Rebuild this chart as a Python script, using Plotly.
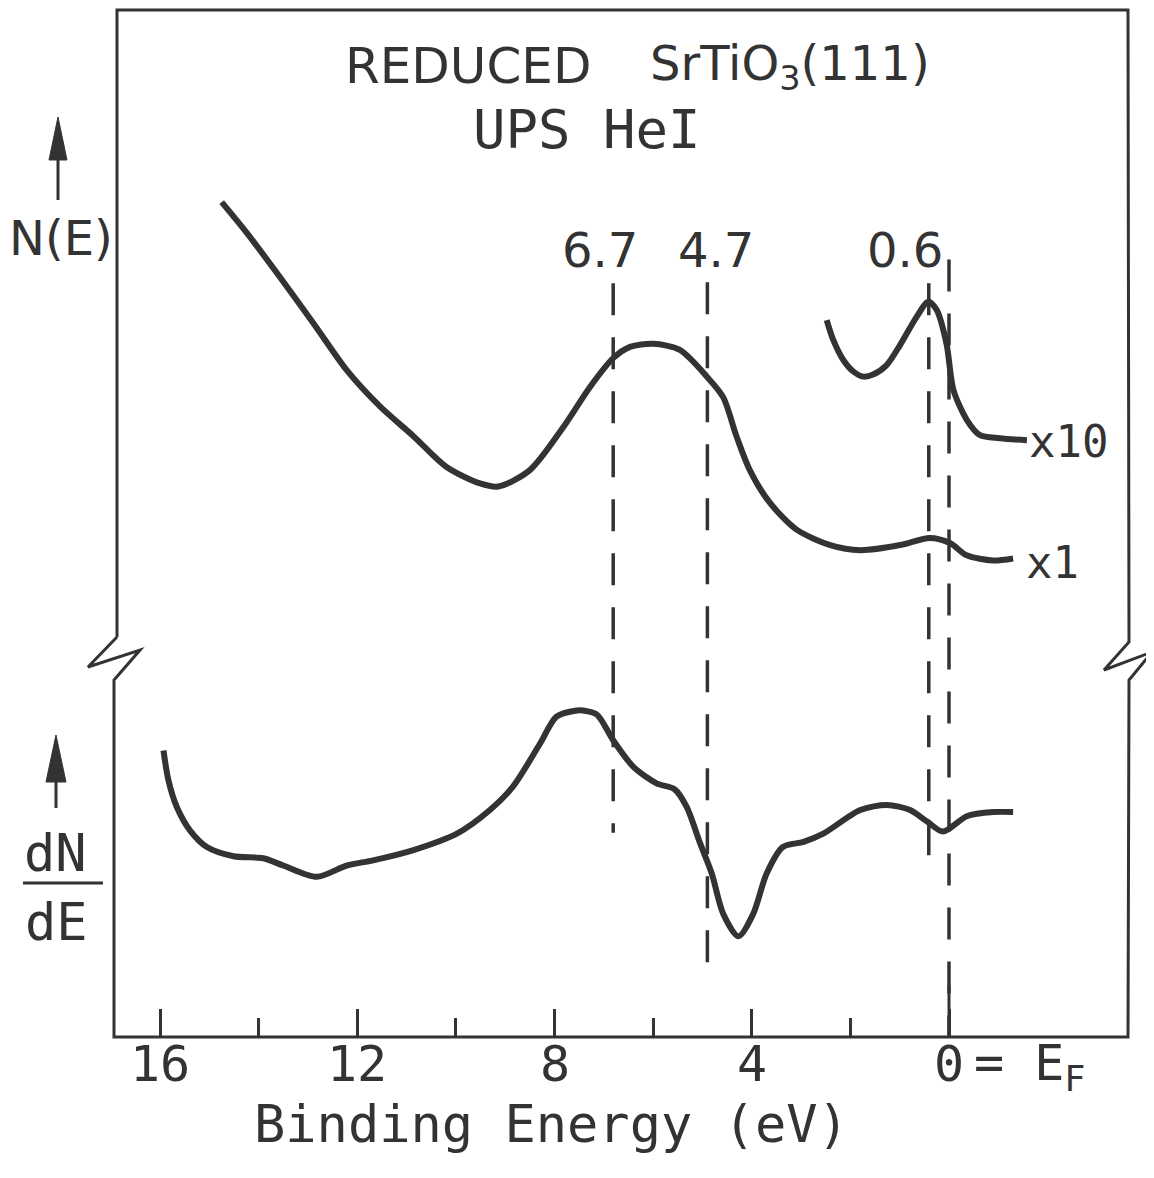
import plotly.graph_objects as go

# ---------------- data ----------------
# N(E) spectrum, x1 (binding energy in eV, intensity in arbitrary units)
ne_x1_E = [14.75, 14.24, 13.57, 12.89, 12.21, 11.54, 10.86, 10.19, 9.51, 9.14,
           8.50, 7.82, 7.28, 6.81, 6.47, 6.00, 5.46, 4.91, 4.58, 4.31, 4.04,
           3.63, 3.09, 2.41, 1.80, 0.99, 0.39, -0.02, -0.36, -0.89, -1.30]
ne_x1_I = [81.3, 78.3, 74.0, 69.5, 64.9, 61.4, 58.5, 55.5, 53.9, 53.6,
           55.2, 59.4, 63.3, 66.1, 67.2, 67.5, 66.9, 64.3, 62.3, 58.5, 55.2,
           52.0, 49.4, 47.9, 47.4, 47.9, 48.6, 48.1, 46.9, 46.4, 46.6]

# N(E) spectrum near E_F, x10
ne_x10_E = [2.48, 2.35, 2.14, 1.94, 1.74, 1.54, 1.27, 0.99, 0.66, 0.42, 0.25, 0.05,
            -0.09, -0.36, -0.63, -1.03, -1.58]
ne_x10_I = [69.8, 67.9, 65.9, 64.8, 64.3, 64.5, 65.4, 67.4, 70.1, 71.6, 70.8, 67.5,
            63.0, 60.1, 58.6, 58.3, 58.1]

# dN/dE spectrum
dn_E = [15.93, 15.83, 15.66, 15.39, 15.05, 14.51, 13.91, 13.50, 12.82, 12.21,
        11.68, 10.86, 9.98, 9.31, 8.84, 8.29, 7.96, 7.55, 7.42, 7.14, 6.81,
        6.40, 5.93, 5.56, 5.32, 5.05, 4.81, 4.58, 4.27, 3.97, 3.70, 3.37,
        2.95, 2.55, 1.80, 1.26, 0.79, 0.45, 0.12, -0.36, -0.90, -1.30]
dn_I = [27.9, 25.0, 22.4, 20.1, 18.5, 17.6, 17.4, 16.7, 15.6, 16.7,
        17.2, 18.2, 19.8, 22.1, 24.4, 28.6, 31.2, 31.8, 31.8, 31.4, 28.9,
        26.3, 24.7, 24.1, 22.4, 18.9, 15.9, 12.0, 9.8, 12.0, 15.9, 18.5,
        19.0, 19.8, 22.1, 22.6, 22.1, 21.0, 20.0, 21.5, 21.9, 21.9]

# dashed marker lines (as drawn) and their labels
mark_E = [6.81, 4.90, 0.41, 0.0]
mark_top = [73.4, 73.5, 73.4, 75.7]
mark_bottom = [19.9, 6.7, 16.5, 0.0]
mark_labels = ["6.7", "4.7", "0.6"]
mark_label_E = [7.08, 4.73, 0.89]

tick_vals = [16, 12, 8, 4, 0]
tick_text = ["16", "12", "8", "4", "0"]
minor_tick_vals = [14, 10, 6, 2]

# ---------------- style / layout ----------------
OFF = 8                      # page body margin of the html page
W, H = 1154 - OFF, 1178 - OFF
L, R, T, B = 117, 1128, 10, 1037   # plot frame in page pixels
INK = "#333333"
MONO = "DejaVu Sans Mono"
SANS = "DejaVu Sans"


def P(px, py):
    return (px - L) / (R - L), (B - py) / (B - T)


def path(points):
    s = ""
    for i, (px, py) in enumerate(points):
        x, y = P(px, py)
        s += ("M" if i == 0 else " L") + f" {x:.5f},{y:.5f}"
    return s


fig = go.Figure()

curve = dict(color=INK, width=6, shape="spline", smoothing=0.8)
fig.add_trace(go.Scatter(x=ne_x1_E, y=ne_x1_I, mode="lines", line=curve, hoverinfo="skip"))
fig.add_trace(go.Scatter(x=ne_x10_E, y=ne_x10_I, mode="lines", line=curve, hoverinfo="skip"))
fig.add_trace(go.Scatter(x=dn_E, y=dn_I, mode="lines", line=curve, hoverinfo="skip"))

for e, t, b in zip(mark_E, mark_top, mark_bottom):
    fig.add_trace(go.Scatter(x=[e, e], y=[t, b], mode="lines",
                             line=dict(color=INK, width=3.5, dash="32px,22px"),
                             hoverinfo="skip"))

shapes = []
# frame with break marks on both sides
frame = [(117, 637), (117, 10), (1128, 10), (1129, 642), (1104, 670), (1152, 652),
         (1129, 680), (1128, 1037), (114, 1037), (114, 680), (140, 650), (88, 667),
         (117, 637)]
shapes.append(dict(type="path", xref="paper", yref="paper", path=path(frame),
                   line=dict(color=INK, width=3)))
# long tick at E_F
shapes.append(dict(type="line", xref="x", yref="y", x0=0, x1=0, y0=0, y1=5.0,
                   line=dict(color=INK, width=3)))
# arrows
for (lx, ly0, ly1, tipy, basey, hw) in [(58, 200, 158, 117, 160, 9), (56, 808, 780, 735, 782, 10)]:
    x0, y0 = P(lx, ly0)
    x1, y1 = P(lx, ly1)
    shapes.append(dict(type="line", xref="paper", yref="paper", x0=x0, y0=y0, x1=x1, y1=y1,
                       line=dict(color=INK, width=3)))
    tri = path([(lx, tipy), (lx - hw, basey), (lx + hw, basey)]) + " Z"
    shapes.append(dict(type="path", xref="paper", yref="paper", path=tri,
                       fillcolor=INK, line=dict(color=INK, width=1)))
# fraction bar dN/dE
x0, y0 = P(23, 883)
x1, _ = P(103, 883)
shapes.append(dict(type="line", xref="paper", yref="paper", x0=x0, y0=y0, x1=x1, y1=y0,
                   line=dict(color=INK, width=3)))

ann = []


def text(px, py, s, size, xanchor="center", family=MONO):
    x, y = P(px, py)
    ann.append(dict(xref="paper", yref="paper", x=x, y=y, text=s, showarrow=False,
                    xanchor=xanchor, yanchor="middle",
                    font=dict(family=family, size=size, color=INK)))


text(343, 66, "REDUCED", 50, xanchor="left", family=SANS)
text(648, 66, "SrTiO<sub>3</sub>(111)", 48, xanchor="left", family=SANS)
text(587, 129, "UPS HeI", 54)
text(61, 238, "N(E)", 48, family=SANS)
text(55, 853, "dN", 52)
text(56, 922, "dE", 52)
text(1068, 442, "x10", 44)
text(1052, 562, "x1", 44)
text(972, 1066, "= E<sub>F</sub>", 50, xanchor="left")
text(551, 1124, "Binding Energy (eV)", 52)

# peak labels over the dashed lines
for lab, e in zip(mark_labels, mark_label_E):
    ann.append(dict(xref="x", yref="paper", x=e, y=P(0, 250)[1], text=lab, showarrow=False,
                    xanchor="center", yanchor="middle",
                    font=dict(family=SANS, size=48, color=INK)))

# tick labels of the energy axis
for v, lab in zip(tick_vals, tick_text):
    ann.append(dict(xref="x", yref="paper", x=v, y=P(0, 1064)[1], text=lab, showarrow=False,
                    xanchor="center", yanchor="middle",
                    font=dict(family=MONO, size=50, color=INK)))

fig.update_layout(
    width=W, height=H,
    margin=dict(l=L - OFF, r=W - (R - OFF), t=T - OFF, b=H - (B - OFF), pad=0),
    paper_bgcolor="white", plot_bgcolor="white",
    showlegend=False,
    shapes=shapes, annotations=ann,
    xaxis=dict(range=[(949 - L) / 49.31, (949 - R) / 49.31],
               showline=False, showgrid=False, zeroline=False,
               ticks="inside", ticklen=28, tickwidth=3, tickcolor=INK,
               tickvals=tick_vals, showticklabels=False,
               minor=dict(tickvals=minor_tick_vals, ticks="inside", ticklen=19,
                          tickwidth=3, tickcolor=INK, showgrid=False),
               fixedrange=True),
    yaxis=dict(range=[0, 100], visible=False, fixedrange=True),
)

fig.write_html("out.html")
